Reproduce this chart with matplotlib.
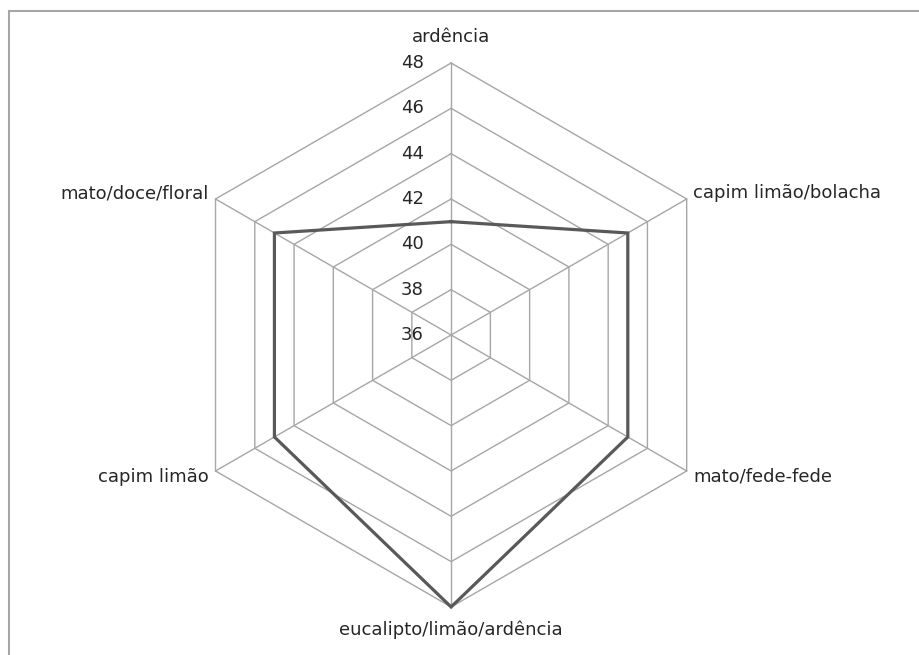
import numpy as np
import matplotlib.pyplot as plt
from matplotlib.patches import Rectangle

categories = ['ardência', 'capim limão/bolacha', 'mato/fede-fede',
              'eucalipto/limão/ardência', 'capim limão', 'mato/doce/floral']
values = [41, 45, 45, 48, 45, 45]
ticks = [36, 38, 40, 42, 44, 46, 48]
rmin, rmax = 36, 48

grid_col = '#a6a6a6'
line_col = '#595959'
text_col = '#262626'
fs = 13

# angles: first axis at top, going clockwise
ang = np.pi / 2 - np.arange(len(categories)) * 2 * np.pi / len(categories)
cx, cy = np.cos(ang), np.sin(ang)

fig = plt.figure(figsize=(9.19, 6.55), dpi=100)
ax = fig.add_axes([0, 0, 1, 1])
ax.set_xlim(-19.9, 20.64)
ax.set_ylim(-14.12, 14.78)
ax.axis('off')

# rings
for t in ticks[1:]:
    r = t - rmin
    ax.plot(np.append(cx, cx[0]) * r, np.append(cy, cy[0]) * r,
            color=grid_col, lw=1, zorder=1)
# spokes
R = rmax - rmin
for x, y in zip(cx, cy):
    ax.plot([0, x * R], [0, y * R], color=grid_col, lw=1, zorder=1)

# tick labels along the top spoke
for t in ticks:
    ax.text(-1.2, t - rmin, str(t), ha='right', va='center',
            fontsize=fs, color=text_col)

# data
rv = np.array(values) - rmin
ax.plot(np.append(cx * rv, cx[0] * rv[0]), np.append(cy * rv, cy[0] * rv[0]),
        color=line_col, lw=2.3, zorder=3, solid_joinstyle='miter')

# category labels
for i, name in enumerate(categories):
    x, y = cx[i] * R, cy[i] * R
    if abs(cx[i]) < 0.01:
        dy = 1.15 if cy[i] > 0 else -1.0
        ax.text(0, y + dy, name, ha='center', va='center', fontsize=fs, color=text_col)
    else:
        ha = 'left' if cx[i] > 0 else 'right'
        dx = 0.3 if cx[i] > 0 else -0.3
        dy = 0.25 if cy[i] > 0 else -0.25
        ax.text(x + dx, y + dy, name, ha=ha, va='center', fontsize=fs, color=text_col)

# outer chart frame (clipped at right/bottom)
fig.patches.append(Rectangle((8.5 / 919, -0.1), 1.2, 1.1 - 10.5 / 655,
                             transform=fig.transFigure, fill=False,
                             edgecolor=grid_col, lw=1.5))

fig.savefig('out.png', dpi=100)
